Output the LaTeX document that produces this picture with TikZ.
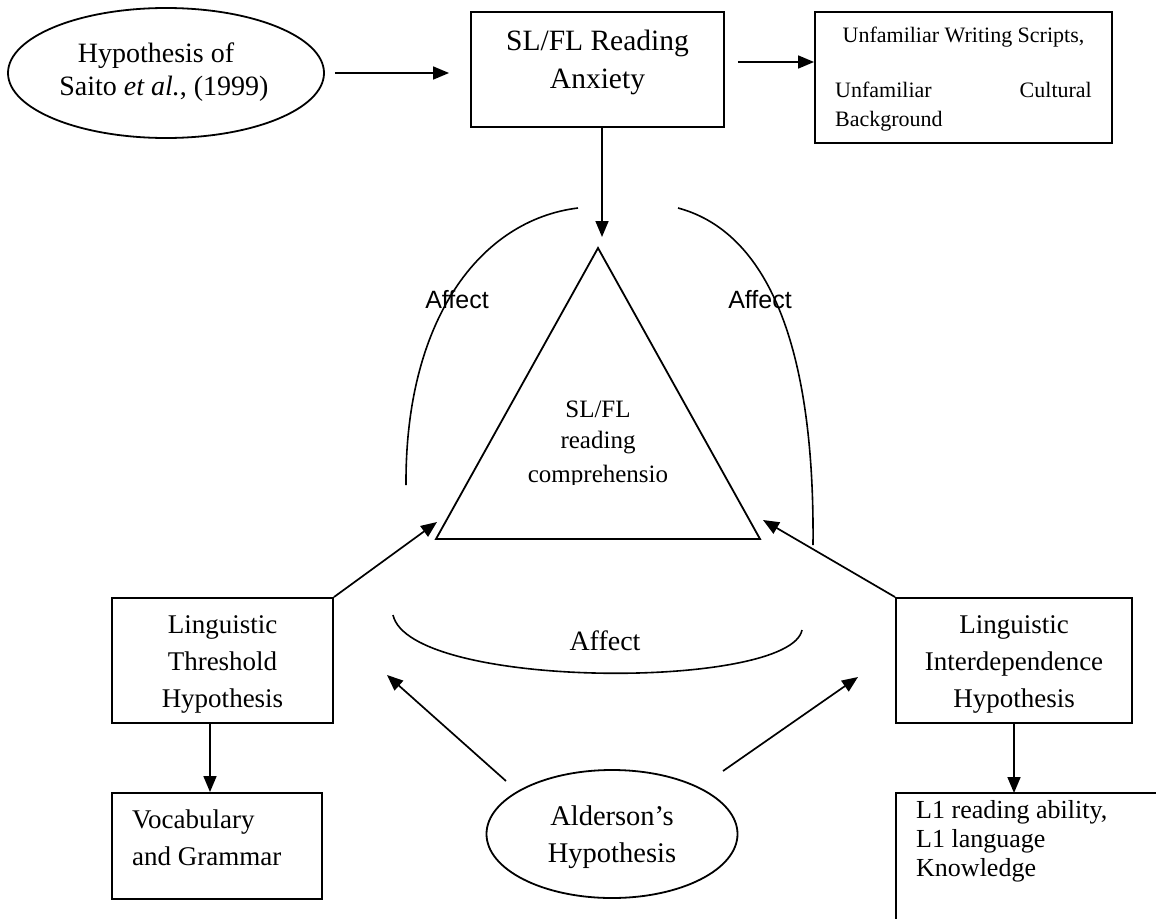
\documentclass[tikz,border=0pt]{standalone}
\usepackage{fontspec}
\setmainfont{Liberation Serif}
\newfontfamily\affsans{Liberation Sans}
\usetikzlibrary{shapes.geometric,arrows.meta}
\newcommand{\fs}[1]{\fontsize{#1}{#1}\selectfont}
\begin{document}
\begin{tikzpicture}[x=1pt,y=-1pt,
  box/.style={draw, line width=1.9pt, inner sep=0pt, rectangle},
  oval/.style={draw, ellipse, line width=1.8pt, inner sep=0pt},
  arr/.style={line width=1.7pt, -{Triangle[length=16pt,width=13pt]}},
  txt/.style={anchor=base, inner sep=0pt},
  txtl/.style={anchor=base west, inner sep=0pt},
  txtr/.style={anchor=base east, inner sep=0pt},
  curve/.style={line width=1.6pt}]
\useasboundingbox (0,0) rectangle (1156,918);

% top row
\node[oval, minimum width=316pt, minimum height=130pt] (saito) at (166,73) {};
\node[txt] (saitoA) at (156,62) {\fs{28}Hypothesis of};
\node[txt] (saitoB) at (164,95) {\fs{28}Saito \textit{et al.}, (1999)};

\node[box, minimum width=253pt, minimum height=115pt] (anx) at (597.5,69.5) {};
\node[txt] (anxA) at (597.5,50) {\fs{29.5}SL/FL Reading};
\node[txt] (anxB) at (597.5,88) {\fs{29.5}Anxiety};

\node[box, minimum width=297pt, minimum height=131pt] (ufm) at (963.5,77.5) {};
\node[txt] (ufmA) at (963.5,42) {\fs{22}Unfamiliar Writing Scripts,};
\node[txtl] (ufmB) at (835,97) {\fs{22}Unfamiliar};
\node[txtr] (ufmC) at (1092,97) {\fs{22}Cultural};
\node[txtl] (ufmD) at (835,126) {\fs{22}Background};

% triangle
\coordinate (apex) at (598,248);
\coordinate (tbl) at (436,539);
\coordinate (tbr) at (760,539);
\draw[line width=1.8pt, line join=miter] (apex) -- (tbl) -- (tbr) -- cycle;
\begin{scope}
\clip (0,0) rectangle (1156,484);
\node[txt] (triA) at (598,417) {\fs{25}SL/FL};
\node[txt] (triB) at (598,448) {\fs{25}reading};
\node[txt] (triC) at (598,482) {\fs{25}comprehensio};
\end{scope}
\coordinate (tril) at (437,522);
\coordinate (trir) at (763,520);

% affect arcs
\draw[curve] (406,485) .. controls (405,320) and (480,220) .. (578,208);
\draw[curve] (678,208) .. controls (760,230) and (815,330) .. (813,545);
\draw[curve] (393,615) .. controls (410,690) and (790,690) .. (802,630);
\node[txt] (affL) at (457,308) {\affsans\fs{25}Affect};
\node[txt] (affR) at (760,308) {\affsans\fs{25}Affect};
\node[txt] (affM) at (605,650) {\fs{28}Affect};

% middle boxes
\node[box, minimum width=221pt, minimum height=125pt] (thr) at (222.5,660.5) {};
\node[txt] (thrA) at (222.5,633) {\fs{27}Linguistic};
\node[txt] (thrB) at (222.5,670) {\fs{27}Threshold};
\node[txt] (thrC) at (222.5,707) {\fs{27}Hypothesis};

\node[box, minimum width=236pt, minimum height=125pt] (inter) at (1014,660.5) {};
\node[txt] (intA) at (1014,633) {\fs{27}Linguistic};
\node[txt] (intB) at (1014,670) {\fs{27}Interdependence};
\node[txt] (intC) at (1014,707) {\fs{27}Hypothesis};

% bottom
\node[box, minimum width=210pt, minimum height=106pt] (voc) at (217,846) {};
\node[txtl] (vocA) at (132,828) {\fs{27}Vocabulary};
\node[txtl] (vocB) at (132,865) {\fs{27}and Grammar};

\node[oval, minimum width=251pt, minimum height=128pt] (ald) at (612,834) {};
\node[txt] (aldA) at (612,825) {\fs{28.5}Alderson’s};
\node[txt] (aldB) at (612,862) {\fs{28.5}Hypothesis};

\coordinate (l1) at (896,793);
\draw[line width=1.9pt] (1160,793) -- (l1) -- (896,922);
\node[txtl] (l1A) at (916,818) {\fs{26}L1 reading ability,};
\node[txtl] (l1B) at (916,847) {\fs{26}L1 language};
\node[txtl] (l1C) at (916,876) {\fs{26}Knowledge};

% connectors
\coordinate (y62) at (0,62);
\coordinate (x602) at (602,0);
\coordinate (a0) at (506,781);
\coordinate (a1) at (387,675);
\coordinate (b0) at (723,771);
\coordinate (b1) at (858,677);
\draw[arr, shorten <=10pt, shorten >=21pt] (saito.east) -- (saito.east -| anx.west);
\draw[arr, shorten <=13pt] (anx.east |- y62) -- (ufm.west |- y62);
\draw[arr, shorten >=11pt] (x602 |- anx.south) -- (x602 |- apex);
\draw[arr] (thr.north east) -- (tril);
\draw[arr] (inter.north west) -- (trir);
\draw[arr] ([xshift=-12.5pt]thr.south) -- ([xshift=-12.5pt]thr.south |- voc.north);
\draw[arr] (inter.south) -- (inter.south |- l1);
\draw[arr] (a0) -- (a1);
\draw[arr] (b0) -- (b1);
\end{tikzpicture}
\end{document}
